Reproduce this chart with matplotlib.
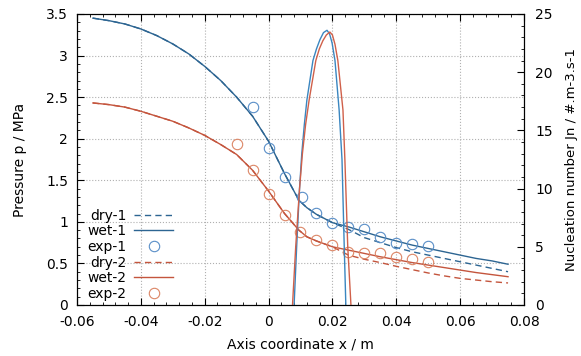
import matplotlib
matplotlib.use("Agg")
import matplotlib.pyplot as plt
from matplotlib.ticker import MultipleLocator

# Pressure profiles (left axis), x in m, p in MPa
x_p = [-0.055, -0.05, -0.045, -0.04, -0.035, -0.03, -0.025, -0.02, -0.015, -0.01,
       -0.005, 0.0, 0.005, 0.0095, 0.012, 0.015, 0.02, 0.025, 0.03, 0.035, 0.04,
       0.045, 0.05, 0.055, 0.06, 0.065, 0.07, 0.075]
wet1 = [3.45, 3.42, 3.38, 3.32, 3.24, 3.14, 3.02, 2.87, 2.70, 2.50, 2.27, 1.97,
        1.58, 1.26, 1.17, 1.09, 0.99, 0.94, 0.88, 0.82, 0.77, 0.72, 0.68, 0.64,
        0.60, 0.56, 0.53, 0.49]
dry1 = [3.45, 3.42, 3.38, 3.32, 3.24, 3.14, 3.02, 2.87, 2.70, 2.50, 2.27, 1.97,
        1.58, 1.26, 1.17, 1.09, 0.99, 0.91, 0.81, 0.75, 0.69, 0.64, 0.60, 0.56,
        0.52, 0.48, 0.44, 0.40]
wet2 = [2.43, 2.41, 2.38, 2.33, 2.27, 2.21, 2.13, 2.04, 1.93, 1.81, 1.62, 1.37,
        1.10, 0.90, 0.82, 0.77, 0.70, 0.66, 0.62, 0.58, 0.545, 0.51, 0.48, 0.45,
        0.42, 0.39, 0.365, 0.34]
dry2 = [2.43, 2.41, 2.38, 2.33, 2.27, 2.21, 2.13, 2.04, 1.93, 1.81, 1.62, 1.37,
        1.10, 0.90, 0.82, 0.77, 0.70, 0.60, 0.55, 0.51, 0.465, 0.425, 0.385, 0.35,
        0.32, 0.30, 0.28, 0.265]

# Experimental points
x_exp1 = [-0.005, 0.0, 0.005, 0.0105, 0.015, 0.02, 0.025, 0.03, 0.035, 0.04, 0.045, 0.05]
exp1 = [2.38, 1.89, 1.54, 1.30, 1.11, 0.99, 0.94, 0.91, 0.82, 0.75, 0.73, 0.71]
x_exp2 = [-0.01, -0.005, 0.0, 0.005, 0.01, 0.015, 0.02, 0.025, 0.03, 0.035, 0.04, 0.045, 0.05]
exp2 = [1.94, 1.62, 1.34, 1.08, 0.88, 0.78, 0.72, 0.64, 0.62, 0.62, 0.58, 0.55, 0.52]

# Nucleation number (right axis)
x_j1 = [0.0080, 0.0088, 0.0097, 0.0104, 0.0112, 0.0120, 0.0139, 0.0150, 0.0161,
        0.0172, 0.0183, 0.0191, 0.0199, 0.0208, 0.0221, 0.0230, 0.0237, 0.0242]
j1 = [0, 5, 10, 13, 15.5, 17.6, 21, 22.0, 22.8, 23.4, 23.6, 23.3, 22.5, 21, 16.75,
      12.5, 5, 0]
x_j2 = [0.0075, 0.0085, 0.0097, 0.0106, 0.0116, 0.0127, 0.0148, 0.0159, 0.0170,
        0.0181, 0.0192, 0.0200, 0.0208, 0.0217, 0.0233, 0.0239, 0.0248, 0.0258]
j2 = [0, 5, 10, 13, 15.5, 17.6, 21, 22.0, 22.7, 23.2, 23.45, 23.2, 22.4, 21, 16.75,
      12.5, 5, 0]

blue = "#2d6592"
red = "#c4553d"
blue_j = "#3a86c0"
red_j = "#d0604a"

plt.rcParams["font.family"] = "DejaVu Sans"
plt.rcParams["font.size"] = 10

fig = plt.figure(figsize=(5.81, 3.56), dpi=100)
ax = fig.add_axes([0.1325, 0.1433, 0.7694, 0.8174])

l_dry1, = ax.plot(x_p, dry1, color=blue, lw=1.0, ls=(0, (4.5, 3)), label="dry-1")
l_wet1, = ax.plot(x_p, wet1, color=blue, lw=1.0, label="wet-1")
l_exp1, = ax.plot(x_exp1, exp1, ls="none", marker="o", ms=7.5, mfc="none",
                  mec="#5a8fc8", mew=0.8, label="exp-1")
l_dry2, = ax.plot(x_p, dry2, color=red, lw=1.0, ls=(0, (4.5, 3)), label="dry-2")
l_wet2, = ax.plot(x_p, wet2, color=red, lw=1.0, label="wet-2")
l_exp2, = ax.plot(x_exp2, exp2, ls="none", marker="o", ms=7.5, mfc="none",
                  mec="#dc8666", mew=0.8, label="exp-2")

ax.set_xlim(-0.06, 0.08)
ax.set_ylim(0, 3.5)
ax.xaxis.set_minor_locator(MultipleLocator(0.004))
ax.yaxis.set_minor_locator(MultipleLocator(0.1))
ax.set_xticks([-0.06, -0.04, -0.02, 0, 0.02, 0.04, 0.06, 0.08])
ax.set_xticklabels(["-0.06", "-0.04", "-0.02", "0", "0.02", "0.04", "0.06", "0.08"])
ax.set_yticks([0, 0.5, 1, 1.5, 2, 2.5, 3, 3.5])
ax.set_yticklabels(["0", "0.5", "1", "1.5", "2", "2.5", "3", "3.5"])
ax.tick_params(which="both", direction="in", top=True, labelsize=10)
ax.tick_params(which="major", length=5)
ax.tick_params(which="minor", length=2.5)
ax.tick_params(axis="x", which="major", pad=7)
ax.tick_params(axis="y", which="major", pad=6.5)
ax.grid(True, which="major", ls=":", color="#b0b0b0", lw=0.8)
ax.set_xlabel("Axis coordinate x / m", fontsize=10, labelpad=6)
ax.set_ylabel("Pressure p / MPa", fontsize=10, labelpad=14)

ax2 = ax.twinx()
ax2.plot(x_j1, j1, color=blue_j, lw=1.0)
ax2.plot(x_j2, j2, color=red_j, lw=1.0)
ax2.set_ylim(0, 25)
ax2.yaxis.set_major_locator(MultipleLocator(5))
ax2.yaxis.set_minor_locator(MultipleLocator(1))
ax2.tick_params(which="both", direction="in", labelsize=10)
ax2.tick_params(which="major", length=5, pad=8)
ax2.tick_params(which="minor", length=2.5)
ax2.set_ylabel("Nucleation number Jn / #.m-3.s-1", fontsize=9.5, labelpad=9)

ax2.legend(handles=[l_dry1, l_wet1, l_exp1, l_dry2, l_wet2, l_exp2],
           loc="lower left", bbox_to_anchor=(0.01, -0.005), frameon=False,
           markerfirst=False, handlelength=2.8, handletextpad=0.6,
           labelspacing=0.12, borderaxespad=0.0, fontsize=10)

fig.savefig("out.png", dpi=100)
